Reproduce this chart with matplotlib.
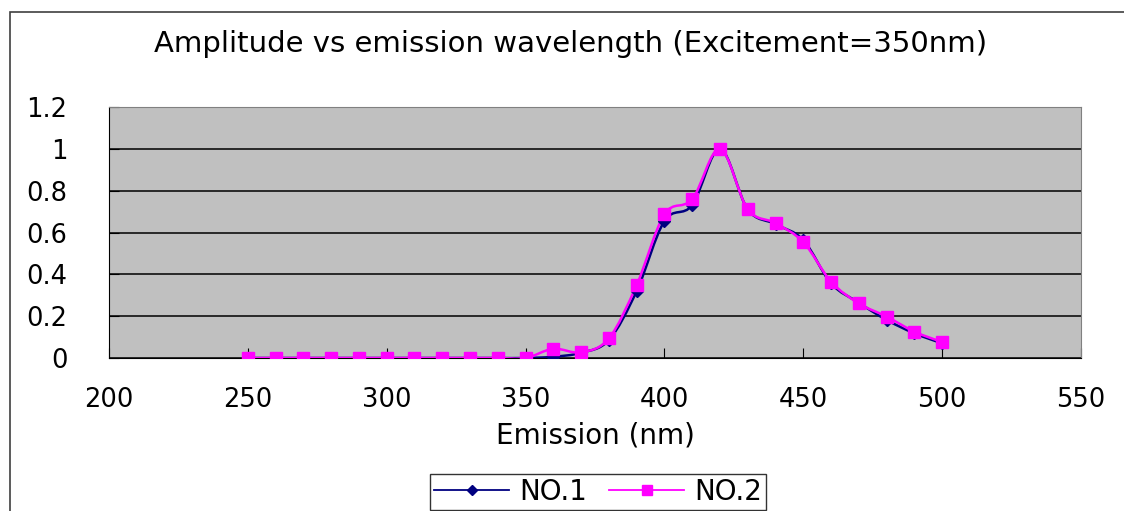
#!/usr/bin/env python
# amplitude vs emission wavelength, two smoothed series
import numpy as np
import matplotlib
matplotlib.use('Agg')
import matplotlib.pyplot as plt
from matplotlib.path import Path
from matplotlib.patches import PathPatch, Rectangle
from matplotlib.lines import Line2D

wavelength = [250, 260, 270, 280, 290, 300, 310, 320, 330, 340, 350,
              360, 370, 380, 390, 400, 410, 420, 430, 440, 450,
              460, 470, 480, 490, 500]
no1 = [0, 0, 0, 0, 0, 0, 0, 0, 0, 0, 0,
       0.006, 0.025, 0.086, 0.32, 0.655, 0.731, 1.0, 0.71, 0.64, 0.564,
       0.357, 0.264, 0.182, 0.118, 0.07]
no2 = [0, 0, 0, 0, 0, 0, 0, 0, 0, 0, 0,
       0.044, 0.027, 0.094, 0.349, 0.687, 0.759, 1.0, 0.711, 0.645, 0.554,
       0.365, 0.261, 0.198, 0.126, 0.076]

def smooth_path(x, y):
    # bezier through the points, like a spreadsheet "smoothed line"
    p = np.column_stack([x, y]).astype(float)
    verts = [p[0]]
    codes = [Path.MOVETO]
    n = len(p)
    for i in range(n - 1):
        p0 = p[i - 1] if i > 0 else p[i]
        p1, p2 = p[i], p[i + 1]
        p3 = p[i + 2] if i + 2 < n else p[i + 1]
        verts += [p1 + (p2 - p0) / 6, p2 - (p3 - p1) / 6, p2]
        codes += [Path.CURVE4] * 3
    return Path(verts, codes)

fig = plt.figure(figsize=(11.24, 5.11), dpi=100)
ax = fig.add_axes([109/1124, 1-358/511, 972/1124, 251/511])
ax.set_facecolor('#C0C0C0')

# outer chart frame
fig.patches.append(Rectangle((10/1124, -0.2), 1.2, 0.2 + 1 - 12/511,
                             transform=fig.transFigure, fill=False,
                             edgecolor='#404040', linewidth=1.2))

series = [(no1, '#000080', 'D', 6.5, 'NO.1'), (no2, '#FF00FF', 's', 8, 'NO.2')]
handles = []
for vals, col, mk, ms, name in series:
    ax.add_patch(PathPatch(smooth_path(wavelength, vals), fill=False,
                           edgecolor=col, linewidth=1.8, zorder=3))
    ax.plot(wavelength, vals, linestyle='none', marker=mk, markersize=ms,
            color=col, markeredgecolor=col, zorder=4)
    handles.append(Line2D([], [], color=col, marker=mk, markersize=ms - 1,
                          linewidth=1.3, label=name))

ax.set_xlim(200, 550)
ax.set_ylim(0, 1.2)
ax.set_xticks(np.arange(200, 551, 50))
ax.set_yticks(np.arange(0, 1.21, 0.2))
ax.set_yticklabels(['0', '0.2', '0.4', '0.6', '0.8', '1', '1.2'])
ax.yaxis.grid(True, color='black', linewidth=1.1)
ax.set_axisbelow(True)
ax.tick_params(axis='x', direction='in', length=7, pad=21, labelsize=18.5,
               color='black')
ax.tick_params(axis='y', direction='in', length=7, pad=30, labelsize=18.5,
               color='black')
ax.spines['left'].set_color('black')
ax.spines['bottom'].set_color('black')
ax.spines['top'].set_color('#808080')
ax.spines['right'].set_color('#808080')

ax.set_xlabel('Emission (nm)', fontsize=20, labelpad=6)
fig.text(571/1124, 1-44/511, 'Amplitude vs emission wavelength (Excitement=350nm)',
         ha='center', va='center', fontsize=21)

leg = fig.legend(handles=handles, loc='center', ncol=2,
                 bbox_to_anchor=(598/1124, 1-492/511), fontsize=20,
                 frameon=True, fancybox=False, handlelength=2.7,
                 handletextpad=0.35, columnspacing=0.8, borderpad=0.15,
                 borderaxespad=0)
leg.get_frame().set_edgecolor('black')
leg.get_frame().set_linewidth(1.0)

fig.savefig('out.png', dpi=100)
